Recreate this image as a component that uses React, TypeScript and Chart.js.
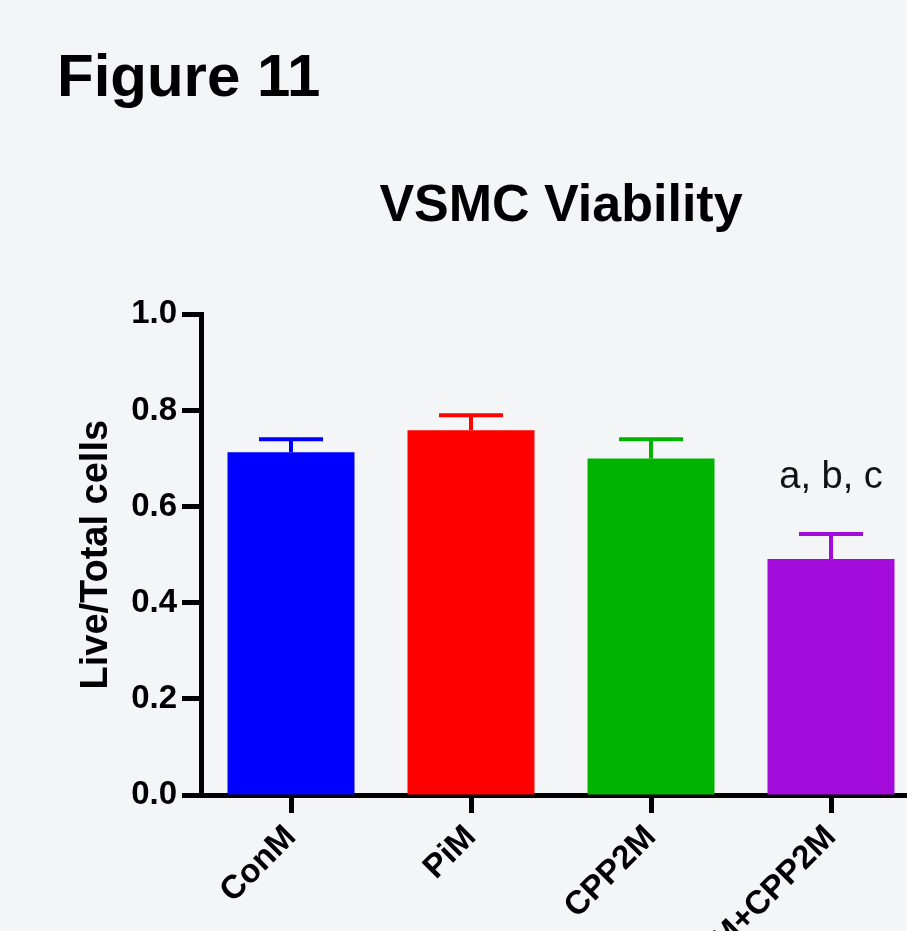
import React, { useEffect, useRef } from 'react';
import { Chart, registerables } from 'chart.js';

Chart.register(...registerables);

const categories = ['ConM', 'PiM', 'CPP2M', 'PiM+CPP2M'];
const means = [0.713, 0.759, 0.7, 0.491];
const errors = [0.027, 0.031, 0.04, 0.052];
const barColors = ['#0000FF', '#FF0000', '#00B300', '#A30BDB'];
const yTicks = [0, 0.2, 0.4, 0.6, 0.8, 1.0];
const annotations = ['', '', '', 'a, b, c'];

const FAMILY = "'Liberation Sans', Arial, Helvetica, sans-serif";
const CANVAS_W = 1000;
const CANVAS_H = 931;

const errorBarPlugin = {
  id: 'errorBars',
  afterDatasetsDraw(chart: any) {
    const ctx = chart.ctx;
    const meta = chart.getDatasetMeta(0);
    const y = chart.scales.y;
    ctx.save();
    meta.data.forEach((bar: any, i: number) => {
      const top = y.getPixelForValue(means[i] + errors[i]);
      const base = y.getPixelForValue(means[i]);
      ctx.strokeStyle = barColors[i];
      ctx.lineWidth = 4;
      ctx.lineCap = 'butt';
      ctx.beginPath();
      ctx.moveTo(bar.x, base);
      ctx.lineTo(bar.x, top);
      ctx.moveTo(bar.x - 32, top);
      ctx.lineTo(bar.x + 32, top);
      ctx.stroke();
      if (annotations[i]) {
        ctx.fillStyle = '#111';
        ctx.font = `normal 38px ${FAMILY}`;
        ctx.textAlign = 'center';
        ctx.textBaseline = 'alphabetic';
        ctx.fillText(annotations[i], bar.x, top - 46);
      }
    });
    ctx.restore();
  },
};

export default function App() {
  const ref = useRef<HTMLCanvasElement | null>(null);

  useEffect(() => {
    if (!ref.current) return;
    const chart = new Chart(ref.current, {
      type: 'bar',
      data: {
        labels: categories,
        datasets: [
          {
            data: means,
            backgroundColor: barColors,
            borderWidth: 0,
            categoryPercentage: 1,
            barPercentage: 0.7056,
          },
        ],
      },
      options: {
        responsive: false,
        animation: false,
        layout: { padding: { left: 0, right: 79, top: 0, bottom: 0 } },
        plugins: {
          legend: { display: false },
          tooltip: { enabled: false },
          title: {
            display: true,
            text: 'VSMC Viability',
            fullSize: false,
            color: '#000',
            font: { size: 52, weight: 'bold', family: FAMILY },
            padding: { top: 175, bottom: 77 },
          },
        },
        scales: {
          x: {
            offset: true,
            grid: {
              display: true,
              offset: false,
              drawOnChartArea: false,
              drawTicks: true,
              tickLength: 18,
              tickWidth: 5,
              tickColor: '#000',
            },
            border: { display: true, color: '#000', width: 5 },
            ticks: {
              minRotation: 45,
              maxRotation: 45,
              autoSkip: false,
              color: '#000',
              padding: 5,
              font: { size: 33, weight: 'bold', family: FAMILY },
            },
            afterFit: (s: any) => {
              s.height = CANVAS_H - 795;
            },
          },
          y: {
            min: 0,
            max: 1,
            afterBuildTicks: (s: any) => {
              s.ticks = yTicks.map((v) => ({ value: v }));
            },
            ticks: {
              color: '#000',
              padding: 5,
              font: { size: 33, weight: 'bold', family: FAMILY },
              callback: (v: any) => Number(v).toFixed(1),
            },
            grid: {
              display: true,
              drawOnChartArea: false,
              drawTicks: true,
              tickLength: 19,
              tickWidth: 5,
              tickColor: '#000',
            },
            border: { display: true, color: '#000', width: 5 },
            title: {
              display: true,
              text: 'Live/Total cells',
              color: '#000',
              font: { size: 38, weight: 'bold', family: FAMILY },
              padding: { top: 74, bottom: 0 },
            },
            afterFit: (s: any) => {
              s.width = 201;
            },
          },
        },
      },
      plugins: [errorBarPlugin],
    } as any);
    return () => chart.destroy();
  }, []);

  return (
    <div
      style={{
        position: 'fixed',
        left: 0,
        top: 0,
        width: 907,
        height: 931,
        overflow: 'hidden',
        background: '#F4F5F7',
      }}
    >
      <div
        style={{
          position: 'absolute',
          left: 57,
          top: 46,
          fontFamily: FAMILY,
          fontWeight: 'bold',
          fontSize: 60,
          lineHeight: 1,
          color: '#000',
          whiteSpace: 'nowrap',
        }}
      >
        Figure 11
      </div>
      <canvas
        ref={ref}
        width={CANVAS_W}
        height={CANVAS_H}
        style={{ position: 'absolute', left: 0, top: 0, width: CANVAS_W, height: CANVAS_H }}
      />
    </div>
  );
}
